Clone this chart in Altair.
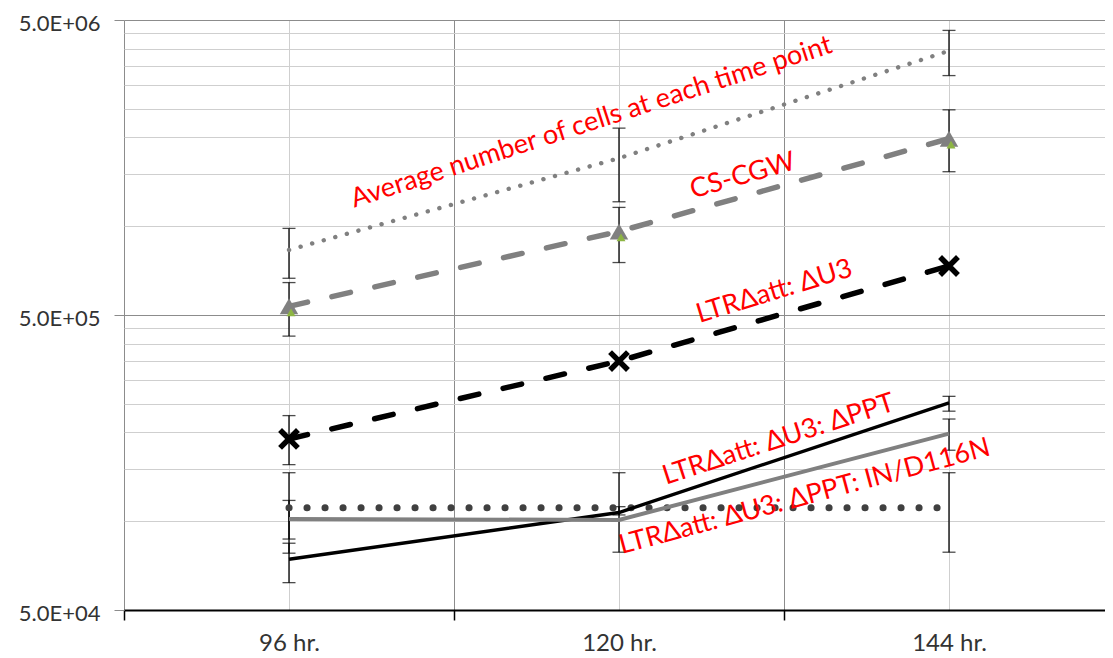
import altair as alt
import pandas as pd

# ---------------- data ----------------
hours = [96, 120, 144]

avg_cells = [8.31e5, 1.70e6, 3.93e6]
avg_lo = [6.66e5, 1.21e6, 3.24e6]
avg_hi = [9.83e5, 2.15e6, 4.61e6]

cs_cgw = [5.35e5, 9.60e5, 1.98e6]
cs_lo = [4.24e5, 7.53e5, 1.53e6]
cs_hi = [6.44e5, 1.158e6, 2.48e6]

du3 = [1.90e5, 3.49e5, 7.33e5]
du3_lo = [1.555e5, None, None]
du3_hi = [2.28e5, None, None]

ppt = [7.43e4, 1.07e5, 2.52e5]
ppt_lo = [6.19e4, 1.05e5, 2.36e5]
ppt_hi = [8.42e4, 1.12e5, 2.65e5]

ind = [1.017e5, 1.01e5, 1.98e5]
ind_lo = [7.79e4, None, 1.74e5]
ind_hi = [1.176e5, None, 2.22e5]

dotted = [1.11e5, 1.11e5, 1.11e5]
dotted_lo = [8.7e4, 7.85e4, 7.85e4]
dotted_hi = [1.46e5, 1.46e5, 1.46e5]

x_tick_values = [84, 96, 108, 120, 132, 144]
y_tick_values = [50000, 100000, 150000, 200000, 250000, 300000, 350000, 400000, 450000,
                 500000, 1000000, 1500000, 2000000, 2500000, 3000000, 3500000, 4000000,
                 4500000, 5000000]

label_texts = ["Average number of cells at each time point", "CS-CGW", "LTR\u0394att: \u0394U3",
               "LTR\u0394att: \u0394U3: \u0394PPT", "LTR\u0394att: \u0394U3: \u0394PPT: IN/D116N"]
label_hours = [118.0, 129.0, 131.3, 131.6, 133.5]
label_values = [2.25e6, 1.48e6, 6.0e5, 1.89e5, 1.21e5]
label_angles = [342, 344, 343, 342, 345]

# ---------------- scales / axes ----------------
major_y = "datum.value == 50000 || datum.value == 500000 || datum.value == 5000000"
major_x = "datum.value % 24 == 12"

xscale = alt.Scale(domain=[84, 155.345], nice=False, zero=False)
yscale = alt.Scale(type="log", domain=[5e4, 5e6], nice=False)

xaxis = alt.Axis(
    values=x_tick_values, title=None, domainColor="black", domainWidth=2,
    grid=True,
    gridColor={"condition": {"test": major_x, "value": "#8c8c8c"}, "value": "#cfcfcf"},
    gridWidth=1,
    tickColor="black", tickWidth=1.5, tickSize=10,
    tickOpacity={"condition": {"test": major_x, "value": 1}, "value": 0},
    labelExpr="datum.value % 24 == 0 ? datum.value + ' hr.' : ''",
    labelFont="Lato", labelFontSize=24, labelPadding=11, labelColor="#333333",
    labelOverlap=False, labelFlush=False,
)
yaxis = alt.Axis(
    values=y_tick_values, title=None, domain=False, grid=True,
    gridColor={"condition": {"test": major_y, "value": "#8c8c8c"}, "value": "#cfcfcf"},
    gridWidth=1,
    tickColor="#8c8c8c", tickWidth=1, tickSize=10,
    tickOpacity={"condition": {"test": major_y, "value": 1}, "value": 0},
    labelExpr="datum.value == 50000 ? '5.0E+04' : datum.value == 500000 ? '5.0E+05' : datum.value == 5000000 ? '5.0E+06' : ''",
    labelFont="Lato", labelFontSize=22, labelPadding=14, labelOffset=3, labelColor="#333333",
    labelOverlap=False, labelFlush=False,
)


def frame(values):
    return pd.DataFrame({"hour": hours, "value": values})


X = alt.X("hour:Q", scale=xscale, axis=xaxis)
Y = alt.Y("value:Q", scale=yscale, axis=yaxis)

# error bar table
rows = []
for lo, hi in [(avg_lo, avg_hi), (cs_lo, cs_hi), (du3_lo, du3_hi),
               (ppt_lo, ppt_hi), (ind_lo, ind_hi), (dotted_lo, dotted_hi)]:
    for h, l, u in zip(hours, lo, hi):
        if l is not None and u is not None:
            rows.append({"hour": h, "lo": l, "hi": u})
err = pd.DataFrame(rows)

bars = alt.Chart(err).mark_rule(color="black", strokeWidth=1.3).encode(
    x=X, y=alt.Y("lo:Q", scale=yscale, axis=yaxis), y2="hi:Q")
cap_lo = alt.Chart(err).mark_tick(orient="horizontal", color="black", size=13, thickness=1.3).encode(
    x=X, y=alt.Y("lo:Q", scale=yscale, axis=yaxis))
cap_hi = alt.Chart(err).mark_tick(orient="horizontal", color="black", size=13, thickness=1.3).encode(
    x=X, y=alt.Y("hi:Q", scale=yscale, axis=yaxis))


def line(values, color, width, dash=None, cap="butt"):
    kw = dict(color=color, strokeWidth=width, strokeCap=cap)
    if dash is not None:
        kw["strokeDash"] = dash
    return alt.Chart(frame(values)).mark_line(**kw).encode(x=X, y=Y)


l_dotted = line(dotted, "#404040", 7, [0.1, 17.9], "round")
l_ppt = line(ppt, "black", 3.4)
l_ind = line(ind, "#808080", 4)
l_du3 = line(du3, "black", 5.5, [19, 25], "round")
l_cs = line(cs_cgw, "#808080", 5.5, [19, 25], "round")
l_avg = line(avg_cells, "#808080", 4.4, [0.1, 11.9], "round")

m_cs = alt.Chart(frame(cs_cgw)).mark_point(shape="triangle-up", filled=True, color="#808080",
                                          size=340, opacity=1).encode(x=X, y=Y)
m_cs2 = alt.Chart(frame(cs_cgw)).mark_point(shape="triangle-up", filled=True, color="#8db543",
                                           size=80, opacity=1, xOffset=2, yOffset=6).encode(x=X, y=Y)
m_du3 = alt.Chart(frame(du3)).mark_point(shape="M-1,-1L1,1M-1,1L1,-1", filled=False, color="black",
                                        strokeWidth=5.5, size=320, opacity=1).encode(x=X, y=Y)

texts = []
for t, h, v, a in zip(label_texts, label_hours, label_values, label_angles):
    df = pd.DataFrame({"hour": [h], "value": [v], "text": [t]})
    texts.append(alt.Chart(df).mark_text(angle=a, font="Lato", fontSize=27, color="#ff0000",
                                         align="center", baseline="middle").encode(
        x=X, y=Y, text="text:N"))

chart = alt.layer(
    bars, cap_lo, cap_hi,
    l_dotted, l_ppt, l_ind, l_du3, l_cs, l_avg,
    m_cs, m_cs2, m_du3, *texts,
).properties(
    width=981, height=590,
    padding={"left": 116, "top": 12, "right": 0, "bottom": 46},
    autosize=alt.AutoSizeParams(type="none"),
    background="white",
).configure_view(strokeWidth=0)

chart.save("out.html", embed_options={"renderer": "svg", "actions": False})
